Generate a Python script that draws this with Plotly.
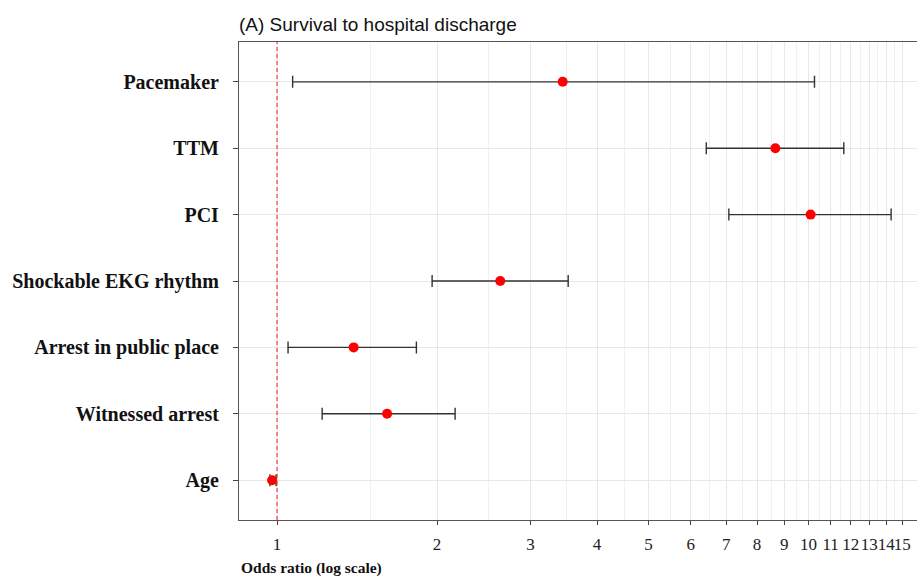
import plotly.graph_objects as go

categories = ["Age", "Witnessed arrest", "Arrest in public place", "Shockable EKG rhythm", "PCI", "TTM", "Pacemaker"]
odds_ratio = [0.979, 1.611, 1.394, 2.63, 10.09, 8.66, 3.447]
ci_lower = [0.970, 1.216, 1.049, 1.958, 7.08, 6.42, 1.070]
ci_upper = [0.996, 2.163, 1.829, 3.53, 14.30, 11.65, 10.26]
x_ticks = list(range(1, 16))
x_minor = [t + 0.5 for t in range(1, 15)]

err_plus = [u - o for u, o in zip(ci_upper, odds_ratio)]
err_minus = [o - l for o, l in zip(odds_ratio, ci_lower)]
ypos = list(range(1, len(categories) + 1))

fig = go.Figure()
fig.add_trace(go.Scatter(
    x=odds_ratio, y=ypos, mode="markers",
    marker=dict(color="#ff0000", size=10),
    error_x=dict(type="data", symmetric=False, array=err_plus, arrayminus=err_minus,
                 color="#333333", thickness=1.4, width=6),
    showlegend=False, hoverinfo="skip"))

fig.add_shape(type="line", xref="x", yref="paper", x0=1, x1=1, y0=0, y1=1,
              line=dict(color="rgba(255,40,40,0.85)", width=1.3, dash="4px,3px"))

serif = "Liberation Serif, Times New Roman, serif"
fig.update_layout(
    width=917, height=576,
    margin=dict(l=239, r=0, t=42, b=56),
    paper_bgcolor="white", plot_bgcolor="white",
    title=dict(text="(A) Survival to hospital discharge", x=239/917, xanchor="left",
               y=1 - 24/576, yanchor="middle",
               font=dict(family="Liberation Sans, Arial, sans-serif", size=19, color="#111111")),
    xaxis=dict(type="log", range=[-0.0715, 1.204],
               tickvals=x_ticks, ticktext=[str(t) for t in x_ticks], tickangle=0,
               tickfont=dict(family=serif, size=17, color="#222222"),
               ticks="outside", ticklen=4, tickcolor="#444444", ticklabelstandoff=4,
               showgrid=True, gridcolor="#e8e8e8", gridwidth=1,
               minor=dict(tickvals=x_minor, showgrid=True, gridcolor="#f0f0f0", gridwidth=1, ticks=""),
               showline=True, linecolor="#555555", linewidth=1.2, mirror=True,
               zeroline=False),
    yaxis=dict(range=[0.4, 7.6], tickvals=ypos, ticktext=categories,
               tickfont=dict(family=serif, size=20, color="#111111", weight="bold"),
               ticks="outside", ticklen=5, tickcolor="#444444", ticklabelstandoff=10,
               showgrid=True, gridcolor="#e8e8e8", gridwidth=1,
               showline=True, linecolor="#555555", linewidth=1.2,
               zeroline=False),
)
fig.add_annotation(text="<b>Odds ratio (log scale)</b>", xref="paper", yref="paper",
                   x=0, y=-(568-520)/478, xanchor="left", yanchor="middle", showarrow=False,
                   font=dict(family=serif, size=15.5, color="#111111"))

fig.write_html("out.html")
